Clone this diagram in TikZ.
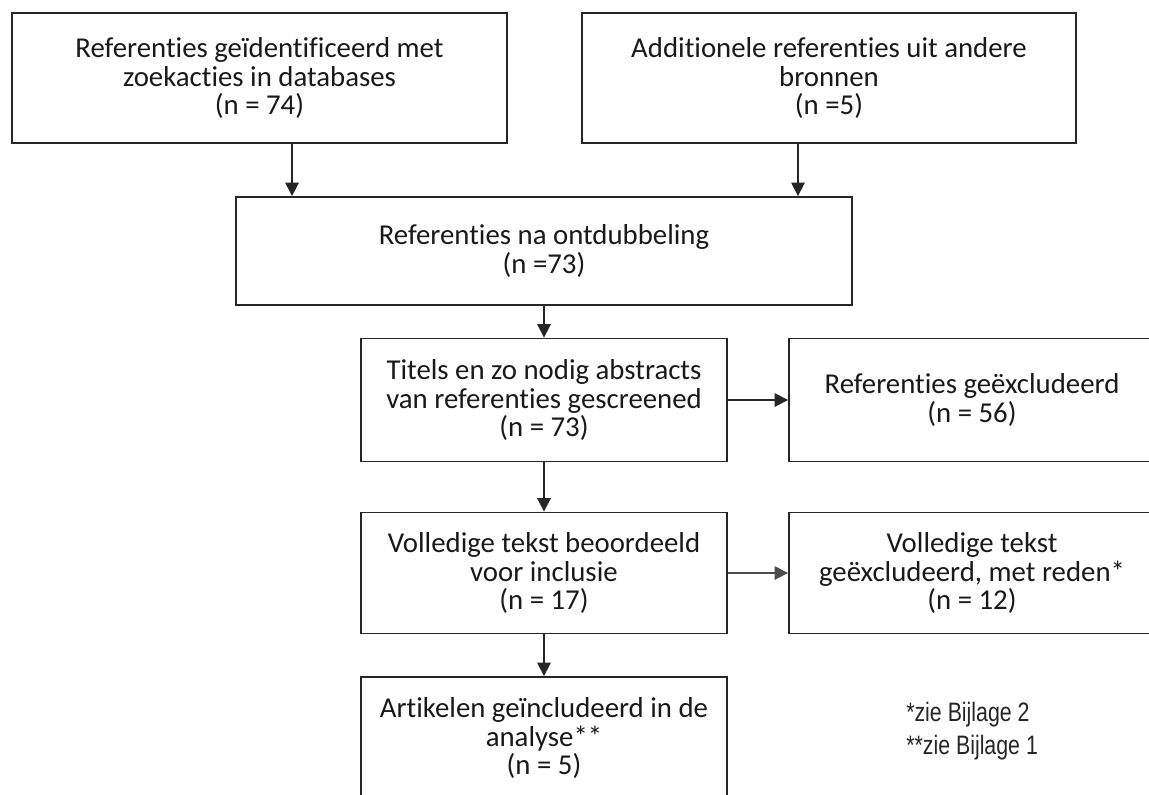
\documentclass[tikz,border=0pt]{standalone}
\usepackage{fontspec}
\setmainfont{Carlito}[Ligatures=NoCommon]
\newfontfamily\notefont[FakeStretch=0.8]{Liberation Sans}
\usetikzlibrary{arrows.meta}

\tikzset{
  flowbox/.style 2 args={draw=black!85, line width=1.4pt, align=center,
    text=black!90, inner sep=0pt, minimum width=#1*0.75pt,
    minimum height=#2*0.75pt, font=\fontsize{21.6}{21.4}\selectfont},
  flowarrow/.style={line width=1.2pt, draw=black!85,
    -{Triangle[width=10pt,length=10pt]}},
  footnote/.style={anchor=west, inner sep=0pt, text=black!85,
    font=\notefont\fontsize{20}{22}\selectfont},
}

\begin{document}
\begin{tikzpicture}[x=0.75pt,y=-0.75pt]
  \useasboundingbox (0,0) rectangle (1149,794);
  \fill[white] (0,0) rectangle (1149,794);
  \clip (0,0) rectangle (1149,794);
  % bronnen
  \node[flowbox={495}{130}] (search) at (259.5,78) {Referenties geïdentificeerd met\\zoekacties in databases\\(n = 74)};
  \node[flowbox={494}{130}] (extra) at (829,78) {Additionele referenties uit andere\\bronnen\\(n =5)};
  % screening
  \node[flowbox={616}{108}] (dedup) at (544,251) {Referenties na ontdubbeling\\(n =73)};
  \node[flowbox={366}{123}] (screened) at (544,400) {Titels en zo nodig abstracts\\van referenties gescreened\\(n = 73)};
  \node[flowbox={366}{123}] (excl) at (972,400) {Referenties geëxcludeerd\\(n = 56)};
  \node[flowbox={366}{121}] (fulltext) at (544,573) {Volledige tekst beoordeeld\\voor inclusie\\(n = 17)};
  \node[flowbox={366}{121}] (fullexcl) at (972,573) {Volledige tekst\\geëxcludeerd, met reden*\\(n = 12)};
  \node[flowbox={366}{122}] (included) at (544,738) {Artikelen geïncludeerd in de\\analyse**\\(n = 5)};
  % voetnoten
  \node[footnote] (note1) at (906,715) {*zie Bijlage 2};
  \node[footnote] (note2) at (906,748) {**zie Bijlage 1};
  % pijlen
  \draw[flowarrow] ([xshift=24.4pt]search.south) -- ([xshift=24.4pt]search.south |- dedup.north);
  \draw[flowarrow] ([xshift=-23.25pt]extra.south) -- ([xshift=-23.25pt]extra.south |- dedup.north);
  \draw[flowarrow] (dedup) -- (screened);
  \draw[flowarrow] (screened) -- (excl);
  \draw[flowarrow] (screened) -- (fulltext);
  \draw[flowarrow, draw=black!70] (fulltext) -- (fullexcl);
  \draw[flowarrow] (fulltext) -- (included);
\end{tikzpicture}
\end{document}
